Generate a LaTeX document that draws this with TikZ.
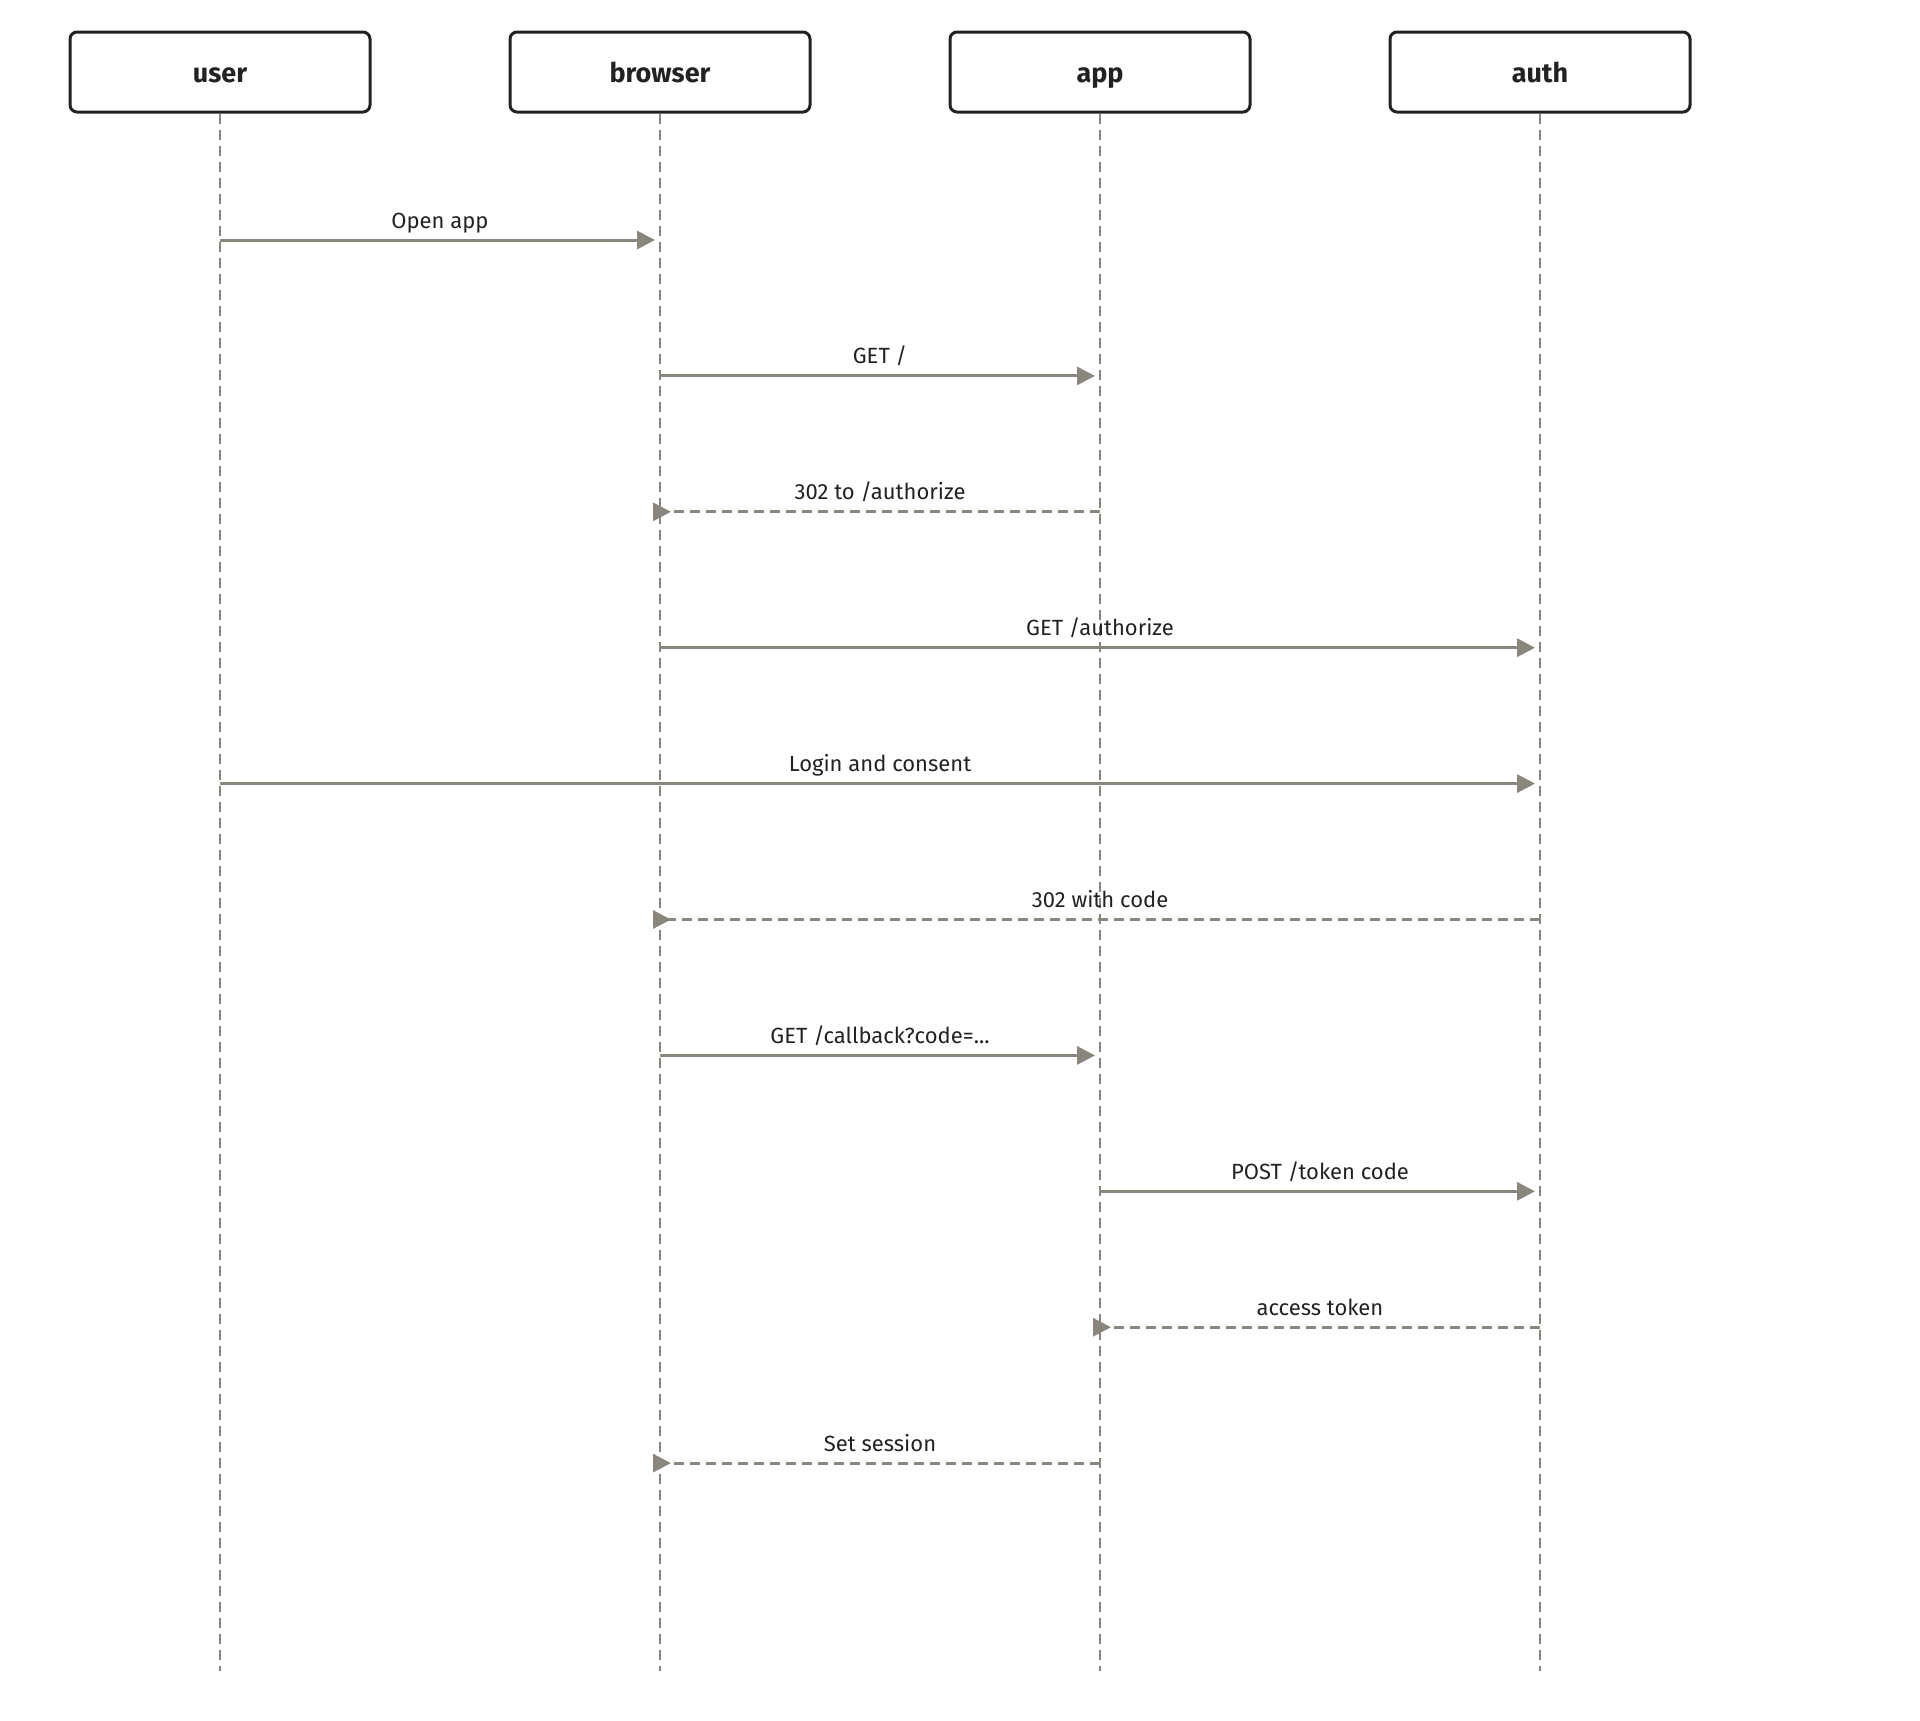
\documentclass[tikz,border=0pt]{standalone}
\usepackage{fontspec}
\setmainfont{Fira Sans}
\usetikzlibrary{arrows.meta,positioning}
\definecolor{wire}{HTML}{8A857D}
\definecolor{ink}{HTML}{222222}

\begin{document}
\begin{tikzpicture}[x=0.5pt,y=-0.5pt,node distance=220pt,
                    >={Triangle[length=9pt,width=9pt]},text=ink]
  \tikzstyle{actor}=[draw=ink,line width=1.5pt,rounded corners=3.5pt,fill=white,
                     minimum width=150pt,minimum height=40pt,
                     text height=13pt,text depth=2.4pt,
                     font=\fontsize{13.5}{16}\selectfont\bfseries]
  \tikzstyle{life}=[draw=wire,line width=1pt,dash pattern=on 5pt off 3pt]
  \tikzstyle{msg}=[draw=wire,line width=1.5pt,->,shorten >=2.5pt]
  \tikzstyle{reply}=[draw=wire,line width=1.5pt,dash pattern=on 5pt off 3pt,
                     -{Triangle[reversed,length=9pt,width=9pt]},shorten >=-3.5pt]
  \tikzstyle{lbl}=[midway,anchor=base,yshift=6pt,inner sep=0pt,
                   font=\fontsize{11}{13}\selectfont]

  \useasboundingbox (0,0) rectangle (1920,1720);

  \node[actor] (user)    at (220,72)      {user};
  \node[actor] (browser) [right of=user]  {browser};
  \node[actor] (app)     [right of=browser] {app};
  \node[actor] (auth)    [right of=app]   {auth};

  % points on the lifelines, one row per message
  \foreach \n in {user,browser,app,auth}{
    \foreach \i in {1,...,10}
      \coordinate (\n-\i) at (\n |- 0,{240+135.9*(\i-1)});
    \coordinate (\n-end) at (\n |- 0,1671);
    \draw[life] (\n.south) -- (\n-end);
  }

  \path (user-1)    edge[msg]   node[lbl] {Open app} (browser-1)
        (browser-2) edge[msg]   node[lbl] {GET /} (app-2)
        (app-3)     edge[reply] node[lbl] {302 to /authorize} (browser-3)
        (browser-4) edge[msg]   node[lbl] {GET /authorize} (auth-4)
        (user-5)    edge[msg]   node[lbl] {Login and consent} (auth-5)
        (auth-6)    edge[reply] node[lbl] {302 with code} (browser-6)
        (browser-7) edge[msg]   node[lbl] {GET /callback?code=...} (app-7)
        (app-8)     edge[msg]   node[lbl] {POST /token code} (auth-8)
        (auth-9)    edge[reply] node[lbl] {access token} (app-9)
        (app-10)    edge[reply] node[lbl] {Set session} (browser-10);
\end{tikzpicture}
\end{document}
